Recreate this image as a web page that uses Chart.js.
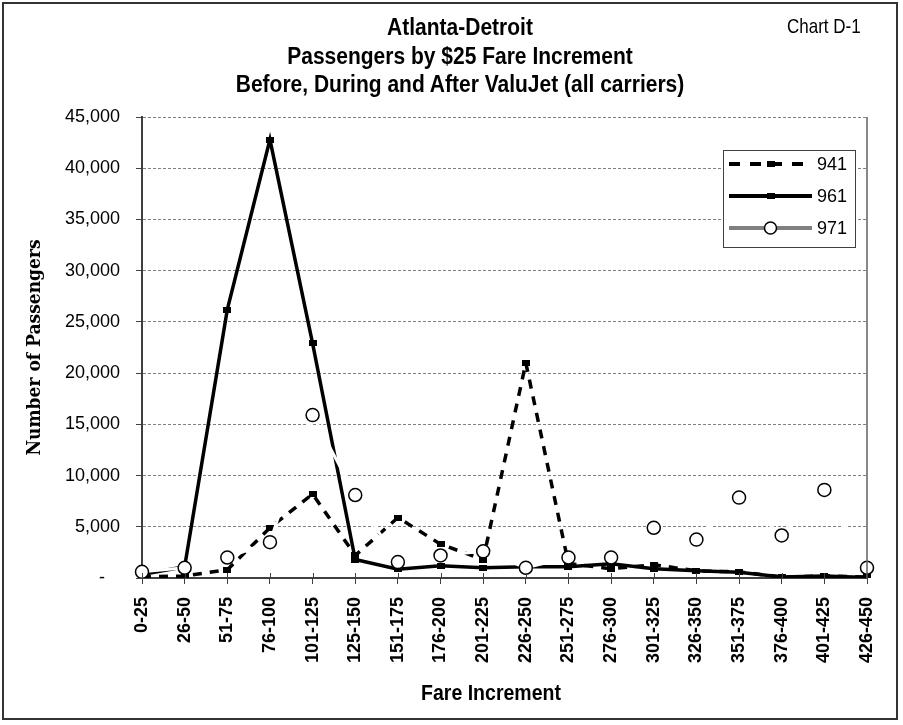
<!DOCTYPE html>
<html>
<head>
<meta charset="utf-8">
<script src="https://cdn.jsdelivr.net/npm/chart.js@4.4.1/dist/chart.umd.min.js"></script>
<style>
  html, body { margin: 0; padding: 0; background: #fff; }
  #wrap { position: relative; width: 903px; height: 725px; }
  #frame { position: absolute; left: 2px; top: 2px; width: 896px; height: 718px; box-sizing: border-box;
           border: 2px solid #333; pointer-events: none; }
  .txt { font-family: "Liberation Sans", Arial, sans-serif; color: #000; position: absolute; white-space: nowrap; }
  .txt span { display: block; transform: scaleY(1.15); }
  #title { left: 0; width: 920px; top: 13px; text-align: center; font-size: 21px; font-weight: bold; line-height: 28.5px; }
  #note { left: 787px; top: 17px; font-size: 17px; line-height: 20px; }
  #xtitle { left: 491px; top: 681px; font-size: 19.5px; font-weight: bold; line-height: 22px; transform: translateX(-50%); }
</style>
</head>
<body>
<div id="wrap">
  <canvas id="chart"></canvas>
  <div id="frame"></div>
  <div id="title" class="txt">
    <span>Atlanta-Detroit</span>
    <span>Passengers by $25 Fare Increment</span>
    <span>Before, During and After ValuJet (all carriers)</span>
  </div>
  <div id="note" class="txt"><span>Chart D-1</span></div>
  <div id="xtitle" class="txt"><span>Fare Increment</span></div>
</div>
<script>
// ─── data ───
const fareLabels = ['0-25','26-50','51-75','76-100','101-125','125-150','151-175','176-200','201-225',
  '226-250','251-275','276-300','301-325','326-350','351-375','376-400','401-425','426-450'];
const seriesNames = ['941', '961', '971'];
const pax941 = [100, 200, 800, 4900, 8200, 2200, 5900, 3300, 1800, 21000, 1400, 900, 1300, 700, 600, 100, 200, 100];
const pax961 = [350, 1100, 26200, 42800, 22900, 1800, 850, 1200, 1000, 1100, 1100, 1400, 900, 700, 550, 100, 200, 50];
const pax971 = [600, 1000, 2000, 3500, 15900, 8100, 1550, 2200, 2600, 1000, 2000, 2000, 4900, 3750, 7850, 4150, 8600, 1000];
const yTicks = { min: 0, max: 45000, step: 5000 };

const SANS = '"Liberation Sans", Arial, sans-serif';

// small black rectangle marker (Excel style)
const sq = document.createElement('canvas');
sq.width = 8; sq.height = 6;
sq.getContext('2d').fillRect(0, 0, 8, 6);

// ─── legend box + right frame line + crossing x ticks ───
const extras = {
  id: 'extras',
  afterDatasetsDraw(chart) {
    const { ctx, chartArea: a, scales } = chart;
    ctx.save();
    // right edge of plot
    ctx.strokeStyle = '#606060'; ctx.lineWidth = 1.5;
    ctx.beginPath(); ctx.moveTo(a.right, a.top); ctx.lineTo(a.right, a.bottom); ctx.stroke();
    // tick marks crossing above the x axis
    ctx.strokeStyle = '#404040'; ctx.lineWidth = 1;
    scales.x.ticks.forEach((t, i) => {
      const x = Math.round(scales.x.getPixelForTick(i)) + 0.5;
      ctx.beginPath(); ctx.moveTo(x, a.bottom - 5); ctx.lineTo(x, a.bottom); ctx.stroke();
    });
    // legend
    const bx = a.right - 144, by = a.top + 33, bw = 132, bh = 97;
    ctx.fillStyle = '#fff'; ctx.fillRect(bx, by, bw, bh);
    ctx.strokeStyle = '#404040'; ctx.lineWidth = 1;
    ctx.strokeRect(bx + 0.5, by + 0.5, bw, bh);
    chart.data.datasets.forEach((ds, i) => {
      const y = by + 14 + i * 32, x0 = bx + 6, x1 = bx + 89, xm = (x0 + x1) / 2;
      ctx.save();
      ctx.lineWidth = 4;
      ctx.strokeStyle = ds.legendColor;
      ctx.setLineDash(ds.borderDash ? [11, 10] : []);
      ctx.beginPath(); ctx.moveTo(x0, y); ctx.lineTo(x1, y); ctx.stroke();
      ctx.restore();
      if (ds.pointStyle === 'circle') {
        ctx.fillStyle = '#fff'; ctx.strokeStyle = '#000'; ctx.lineWidth = 1.5;
        ctx.beginPath(); ctx.arc(xm, y, 6, 0, Math.PI * 2); ctx.fill(); ctx.stroke();
      } else {
        ctx.drawImage(sq, xm - 4, y - 3);
      }
      ctx.fillStyle = '#000';
      ctx.font = '18px ' + SANS;
      ctx.textBaseline = 'middle';
      ctx.fillText(ds.label, x1 + 5, y + 1);
    });
    ctx.restore();
  }
};

new Chart(document.getElementById('chart'), {
  type: 'line',
  data: {
    labels: fareLabels,
    datasets: [
      { label: seriesNames[0], data: pax941, order: 2, borderColor: '#000', legendColor: '#000',
        borderWidth: 3.5, borderDash: [9, 8], pointStyle: sq, pointRadius: 4, pointHoverRadius: 4 },
      { label: seriesNames[1], data: pax961, order: 1, borderColor: '#000', legendColor: '#000',
        borderWidth: 3.5, pointStyle: sq, pointRadius: 4, pointHoverRadius: 4 },
      { label: seriesNames[2], data: pax971, order: 0, borderColor: '#fff', legendColor: '#808080',
        borderWidth: 3, pointStyle: 'circle', pointRadius: 6.5, pointBackgroundColor: '#fff',
        pointBorderColor: '#000', pointBorderWidth: 1.5 }
    ]
  },
  options: {
    responsive: true, maintainAspectRatio: false, animation: false,
    layout: { padding: { left: 0, right: 36, top: 117, bottom: 0 } },
    elements: { line: { tension: 0 } },
    plugins: {
      legend: { display: false },
      tooltip: { enabled: false },
      title: { display: false }
    },
    scales: {
      x: {
        offset: false,
        afterFit: s => { s.height = 147; },
        grid: { display: true, drawOnChartArea: false, drawTicks: true, tickLength: 6, color: '#404040', lineWidth: 1 },
        border: { display: true, color: '#404040', width: 2 },
        ticks: { color: '#000', autoSkip: false, minRotation: 90, maxRotation: 90, padding: 13,
                 font: { family: SANS, size: 18, weight: 'bold' } }
      },
      y: {
        min: yTicks.min, max: yTicks.max,
        afterFit: s => { s.width = 142; },
        grid: { color: c => c.tick && c.tick.value === 0 ? 'rgba(0,0,0,0)' : '#808080', lineWidth: 1,
                tickColor: '#404040', tickLength: 6, tickBorderDash: [] },
        border: { display: true, color: '#404040', width: 2, dash: [3, 2] },
        ticks: { stepSize: yTicks.step, color: '#000', padding: 16,
                 font: { family: SANS, size: 18 },
                 callback: v => v === 0 ? '-   ' : v.toLocaleString('en-US') },
        title: { display: true, text: 'Number of Passengers', color: '#000',
                 font: { family: '"DejaVu Serif Condensed", "DejaVu Serif", serif', size: 19, weight: 'bold' },
                 padding: { top: 24, bottom: 0 } }
      }
    }
  },
  plugins: [extras]
});
</script>
</body>
</html>
